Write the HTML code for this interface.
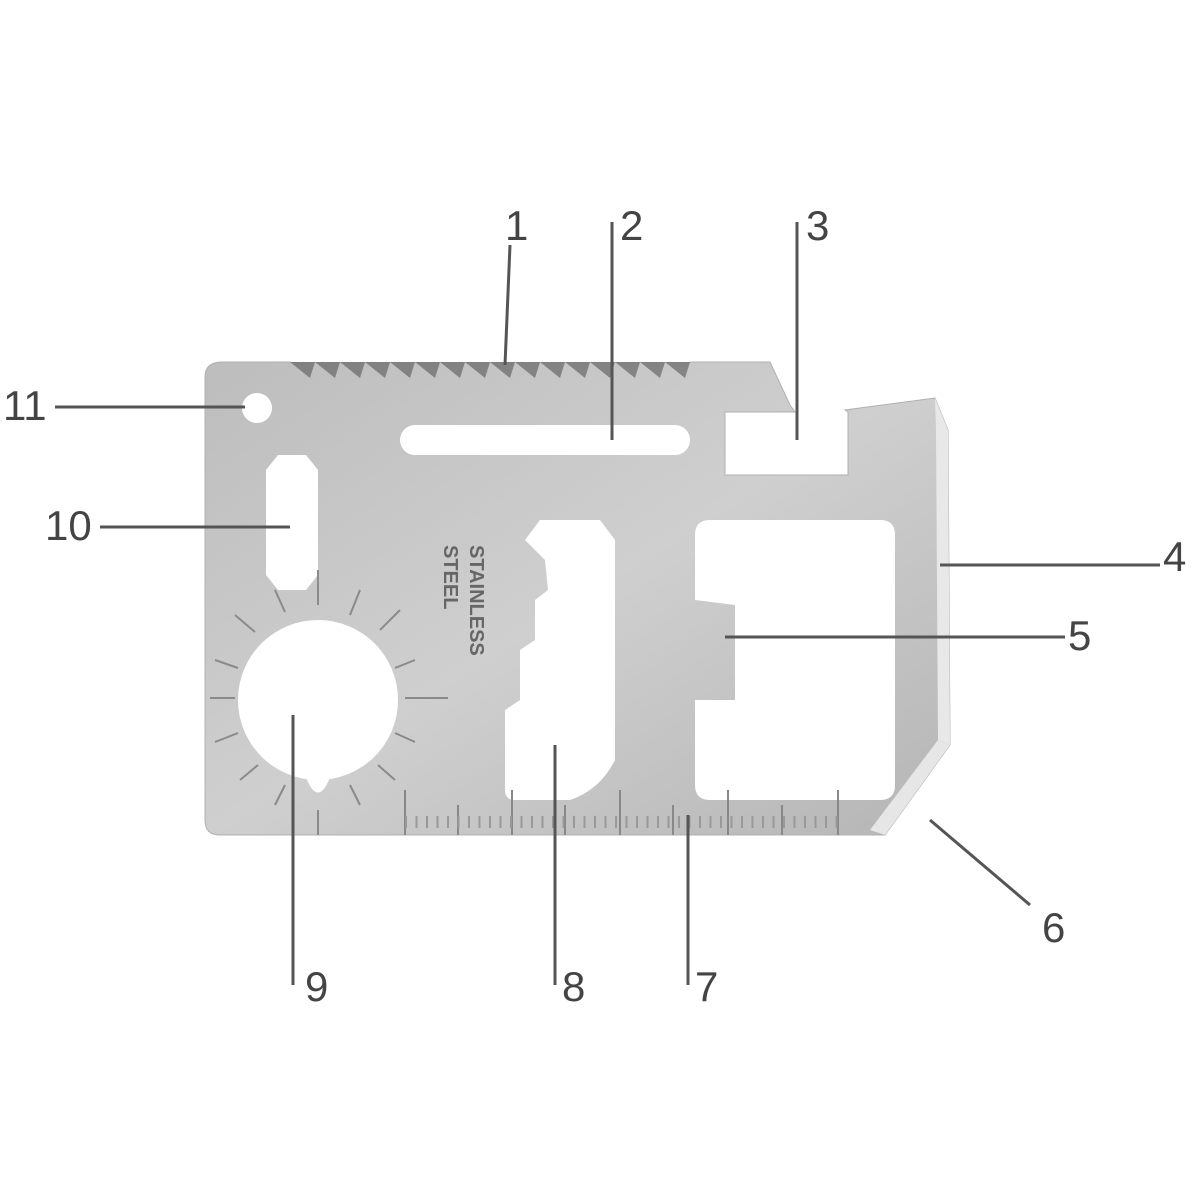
<!DOCTYPE html>
<html><head><meta charset="utf-8"><style>
html,body{margin:0;padding:0;background:#fff;}
svg{display:block}
text{font-family:"Liberation Sans",sans-serif;fill:#444;font-size:42px}
</style></head><body>
<svg width="1200" height="1200" viewBox="0 0 1200 1200">
<defs>
<linearGradient id="g" x1="0" y1="0" x2="1" y2="1">
<stop offset="0" stop-color="#bdbdbd"/><stop offset="0.5" stop-color="#cfcfcf"/><stop offset="1" stop-color="#b5b5b5"/>
</linearGradient>
</defs>
<!-- card body -->
<path d="M222,362 L290,362 L770,362 L790,405 L795,412 L725,412 L725,475 L848,475 L848,412 L845,410 L935,398 L948,430 L950,745 L885,835 L220,835 Q205,835 205,820 L205,377 Q205,362 222,362 Z" fill="url(#g)" stroke="#b0b0b0" stroke-width="1"/>
<!-- serrations -->
<path d="M290,362 l20,16 l5,-16 l20,16 l5,-16 l20,16 l5,-16 l20,16 l5,-16 l20,16 l5,-16 l20,16 l5,-16 l20,16 l5,-16 l20,16 l5,-16 l20,16 l5,-16 l20,16 l5,-16 l20,16 l5,-16 l20,16 l5,-16 l20,16 l5,-16 l20,16 l5,-16 l20,16 l5,-16 l20,16 l5,-16 Z" fill="#666" opacity="0.7"/>
<path d="M290,362 l5,-2 H690 v2 Z" fill="#fff"/>
<!-- right bevel -->
<path d="M935,398 L948,430 L950,745 L938,740 L936,430 Z" fill="#e8e8e8"/>
<path d="M950,745 L885,835 L870,830 L938,740 Z" fill="#e6e6e6"/>
<!-- cutouts -->
<circle cx="257" cy="408" r="15" fill="#fff"/>
<rect x="400" y="425" width="290" height="30" rx="15" fill="#fff"/>
<polygon points="278,455 306,455 318,470 318,575 306,590 278,590 266,575 266,470" fill="#fff"/>
<circle cx="318" cy="700" r="80" fill="#fff"/>
<path d="M305,775 Q318,810 331,775 Z" fill="#fff"/>
<path d="M540,520 L600,520 L615,540 L615,760 Q600,790 570,800 L515,800 Q505,800 505,790 L505,710 L520,700 L520,650 L535,640 L535,600 L548,590 L545,560 L525,540 Z" fill="#fff"/>
<path d="M710,520 L880,520 Q895,520 895,535 L895,785 Q895,800 880,800 L710,800 Q695,800 695,785 L695,700 L735,700 L735,605 L695,600 L695,535 Q695,520 710,520 Z" fill="#fff"/>
<!-- ruler -->
<g stroke="#888" stroke-width="2">
<line x1="405" y1="790" x2="405" y2="835"/><line x1="458" y1="805" x2="458" y2="835"/>
<line x1="512" y1="790" x2="512" y2="835"/><line x1="565" y1="805" x2="565" y2="835"/>
<line x1="620" y1="790" x2="620" y2="835"/><line x1="673" y1="805" x2="673" y2="835"/>
<line x1="728" y1="790" x2="728" y2="835"/><line x1="782" y1="805" x2="782" y2="835"/>
<line x1="838" y1="790" x2="838" y2="835"/>
</g>
<path d="M405,822 H845" stroke="#999" stroke-width="12" stroke-dasharray="2,8.5"/>
<!-- sun rays -->
<g stroke="#8a8a8a" stroke-width="2">
<line x1="318" y1="570" x2="318" y2="605"/><line x1="360" y1="590" x2="350" y2="615"/>
<line x1="400" y1="610" x2="380" y2="630"/><line x1="415" y1="660" x2="395" y2="668"/>
<line x1="448" y1="698" x2="405" y2="698"/><line x1="415" y1="742" x2="395" y2="733"/>
<line x1="395" y1="780" x2="378" y2="765"/><line x1="360" y1="805" x2="350" y2="785"/>
<line x1="318" y1="835" x2="318" y2="810"/><line x1="275" y1="805" x2="285" y2="785"/>
<line x1="240" y1="780" x2="258" y2="765"/><line x1="215" y1="742" x2="238" y2="733"/>
<line x1="210" y1="698" x2="235" y2="698"/><line x1="215" y1="660" x2="238" y2="668"/>
<line x1="235" y1="615" x2="255" y2="632"/><line x1="275" y1="590" x2="285" y2="612"/>
</g>
<g transform="translate(470,545) rotate(90)"><text x="0" y="0" style="font-size:20px;fill:#666;font-weight:bold">STAINLESS</text><text x="0" y="26" style="font-size:20px;fill:#666;font-weight:bold">STEEL</text></g>
<!-- leader lines -->
<g stroke="#555" stroke-width="3" fill="none">
<line x1="510" y1="245" x2="505" y2="365"/>
<line x1="612" y1="222" x2="612" y2="440"/>
<line x1="797" y1="222" x2="797" y2="440"/>
<line x1="940" y1="565" x2="1160" y2="565"/>
<line x1="725" y1="637" x2="1065" y2="637"/>
<line x1="930" y1="820" x2="1030" y2="905"/>
<line x1="688" y1="815" x2="688" y2="985"/>
<line x1="555" y1="745" x2="555" y2="985"/>
<line x1="293" y1="715" x2="293" y2="985"/>
<line x1="100" y1="527" x2="290" y2="527"/>
<line x1="55" y1="407" x2="245" y2="407"/>
</g>
<text x="505" y="240">1</text>
<text x="620" y="240">2</text>
<text x="806" y="240">3</text>
<text x="1163" y="571">4</text>
<text x="1068" y="650">5</text>
<text x="1042" y="942">6</text>
<text x="695" y="1001">7</text>
<text x="562" y="1001">8</text>
<text x="305" y="1001">9</text>
<text x="45" y="540">10</text>
<text x="3" y="420">11</text>
</svg>
</body></html>
